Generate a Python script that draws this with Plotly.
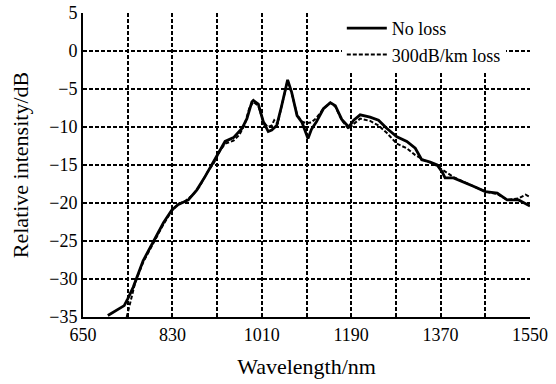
import plotly.graph_objects as go

# ---- data ----
wl_noloss = [700, 715, 733, 740, 751, 771, 792, 812, 829, 842, 862, 879, 896, 913, 923,
             936, 953, 970, 980, 990, 993, 1003, 1013, 1023, 1030, 1040, 1050, 1062, 1070,
             1081, 1091, 1098, 1103, 1110, 1120, 1134, 1148, 1158, 1171, 1185, 1195, 1208,
             1228, 1245, 1262, 1282, 1302, 1319, 1332, 1349, 1363, 1373, 1379, 1396, 1416,
             1436, 1460, 1484, 1504, 1527, 1550]
db_noloss = [-34.8, -34.2, -33.5, -32.6, -31.1, -27.6, -25.0, -22.6, -20.9, -20.2, -19.6,
             -18.3, -16.5, -14.6, -13.4, -11.9, -11.4, -10.2, -8.9, -6.7, -6.5, -7.0, -9.3,
             -10.6, -10.4, -9.8, -7.2, -3.8, -5.4, -8.5, -9.4, -10.8, -11.5, -10.3, -9.3,
             -7.6, -6.8, -7.2, -9.0, -10.0, -9.1, -8.4, -8.7, -9.1, -10.2, -11.3, -11.9,
             -12.8, -14.3, -14.6, -15.0, -15.9, -16.7, -16.7, -17.2, -17.8, -18.5, -18.7,
             -19.6, -19.6, -20.4]

wl_loss = [738, 745, 755, 771, 792, 812, 829, 842, 855, 870, 885, 900, 913, 925, 936, 953,
           965, 975, 985, 993, 1003, 1013, 1022, 1030, 1035, 1042, 1050, 1062, 1070, 1081,
           1091, 1100, 1110, 1120, 1134, 1148, 1158, 1171, 1185, 1195, 1208, 1228, 1245,
           1262, 1282, 1302, 1319, 1340, 1355, 1369, 1380, 1396, 1416, 1436, 1460, 1484,
           1504, 1527, 1541, 1550]
db_loss = [-35.0, -33.0, -30.5, -27.8, -25.2, -22.8, -21.0, -20.1, -19.8, -19.0, -17.8,
           -16.0, -14.8, -13.2, -12.2, -11.8, -11.0, -9.8, -7.5, -6.7, -7.2, -9.3, -10.0,
           -9.8, -9.1, -9.6, -7.2, -3.9, -5.5, -8.4, -9.3, -9.5, -9.4, -8.8, -7.6, -6.8,
           -7.3, -9.1, -10.3, -9.6, -8.9, -9.2, -9.8, -10.8, -12.2, -12.8, -13.7, -14.5,
           -14.8, -15.4, -15.9, -16.6, -17.2, -17.8, -18.5, -18.8, -19.6, -19.4, -18.9,
           -19.2]

x_ticks = [650, 740, 830, 920, 1010, 1100, 1190, 1280, 1370, 1460, 1550]
x_labels = ["650", "", "830", "", "1010", "", "1190", "", "1370", "", "1550"]
y_ticks = [5, 0, -5, -10, -15, -20, -25, -30, -35]

FONT = "Liberation Serif"

fig = go.Figure()
fig.add_trace(go.Scatter(x=wl_noloss, y=db_noloss, mode="lines", name="No loss",
                         legendgroup="a",
                         line=dict(color="black", width=2.8)))
fig.add_trace(go.Scatter(x=wl_loss, y=db_loss, mode="lines", name="300dB/km loss",
                         legendgroup="b",
                         line=dict(color="black", width=2, dash="4px,2px")))

grid = dict(showgrid=True, gridcolor="black", gridwidth=1.7, griddash="4px,2px")
fig.update_xaxes(range=[650, 1550], tickvals=x_ticks, ticktext=x_labels,
                 showline=True, linecolor="black", linewidth=2, mirror=False,
                 zeroline=False, ticks="", automargin=False,
                 title=dict(text="Wavelength/nm", standoff=15),
                 **grid)
fig.update_yaxes(range=[-35, 5], tickvals=y_ticks,
                 showline=True, linecolor="black", linewidth=2, mirror=False,
                 zeroline=False, ticks="inside", ticklen=4, tickcolor="black",
                 automargin=False,
                 title=dict(text="Relative intensity/dB", standoff=15), **grid)

fig.update_layout(
    width=556, height=384,
    margin=dict(l=83, r=26, t=13, b=67, autoexpand=False),
    paper_bgcolor="white", plot_bgcolor="white",
    font=dict(family=FONT, size=18, color="black"),
    showlegend=True,
    legend=dict(x=0.579, y=1.01, xanchor="left", yanchor="top",
                bgcolor="white", borderwidth=0, tracegroupgap=0, itemwidth=40,
                traceorder="grouped", font=dict(family=FONT, size=18)),
)

fig.write_html("out.html", config={"displayModeBar": False},
               post_script="document.body.style.margin='0px';")
